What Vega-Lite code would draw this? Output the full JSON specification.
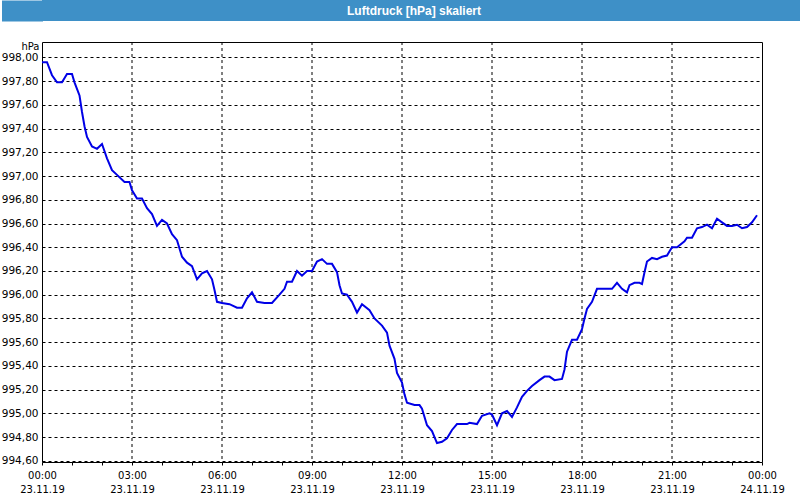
{
  "$schema": "https://vega.github.io/schema/vega-lite/v6.json",
  "padding": 0,
  "background": "white",
  "spacing": 19,
  "config": {"view": {"stroke": null}, "font": "DejaVu Sans"},
  "vconcat": [
    {
      "width": 760,
      "height": 21,
      "view": {"fill": "#3e90c7", "stroke": null},
      "data": {"values": [{"titel": "Luftdruck [hPa] skaliert", "pos": 0}]},
      "mark": {"type": "text", "color": "white", "font": "Liberation Sans", "fontWeight": "bold", "fontSize": 12, "dx": -8, "baseline": "middle"},
      "encoding": {
        "text": {"field": "titel"},
        "y": {
          "field": "pos",
          "type": "quantitative",
          "scale": {"domain": [-1, 1]},
          "axis": {"title": null, "labels": false, "ticks": false, "grid": false, "domain": true, "domainColor": "#3e90c7", "domainOpacity": 1, "domainWidth": 41, "domainCap": "butt", "offset": 20}
        }
      }
    },
    {
      "width": 720,
      "height": 420,
      "view": {"stroke": "black", "strokeWidth": 1, "fill": "white"},
      "resolve": {"axis": {"x": "independent"}},
      "layer": [
        {
          "data": {"values": [
            {"zeit": "2019-11-23T03:00:00Z"}, {"zeit": "2019-11-23T06:00:00Z"}, {"zeit": "2019-11-23T09:00:00Z"},
            {"zeit": "2019-11-23T12:00:00Z"}, {"zeit": "2019-11-23T15:00:00Z"}, {"zeit": "2019-11-23T18:00:00Z"},
            {"zeit": "2019-11-23T21:00:00Z"}
          ]},
          "mark": {"type": "rule", "color": "black", "strokeWidth": 1, "strokeDash": [3, 3]},
          "encoding": {
            "x": {
              "field": "zeit",
              "type": "temporal",
              "axis": {
                "orient": "bottom",
                "title": null,
                "domain": false,
                "labels": false,
                "grid": false,
                "ticks": true,
                "tickSize": 3,
                "tickColor": "black",
                "values": [
                  {"year": 2019, "month": 11, "date": 23, "hours": 1, "utc": true},
                  {"year": 2019, "month": 11, "date": 23, "hours": 2, "utc": true},
                  {"year": 2019, "month": 11, "date": 23, "hours": 4, "utc": true},
                  {"year": 2019, "month": 11, "date": 23, "hours": 5, "utc": true},
                  {"year": 2019, "month": 11, "date": 23, "hours": 7, "utc": true},
                  {"year": 2019, "month": 11, "date": 23, "hours": 8, "utc": true},
                  {"year": 2019, "month": 11, "date": 23, "hours": 10, "utc": true},
                  {"year": 2019, "month": 11, "date": 23, "hours": 11, "utc": true},
                  {"year": 2019, "month": 11, "date": 23, "hours": 13, "utc": true},
                  {"year": 2019, "month": 11, "date": 23, "hours": 14, "utc": true},
                  {"year": 2019, "month": 11, "date": 23, "hours": 16, "utc": true},
                  {"year": 2019, "month": 11, "date": 23, "hours": 17, "utc": true},
                  {"year": 2019, "month": 11, "date": 23, "hours": 19, "utc": true},
                  {"year": 2019, "month": 11, "date": 23, "hours": 20, "utc": true},
                  {"year": 2019, "month": 11, "date": 23, "hours": 22, "utc": true},
                  {"year": 2019, "month": 11, "date": 23, "hours": 23, "utc": true}
                ]
              }
            }
          }
        },
        {
          "data": {"values": [
            {"zeit": "2019-11-23T00:00:00Z", "hPa": 997.96},
            {"zeit": "2019-11-23T00:10:00Z", "hPa": 997.96},
            {"zeit": "2019-11-23T00:20:00Z", "hPa": 997.85},
            {"zeit": "2019-11-23T00:30:00Z", "hPa": 997.79},
            {"zeit": "2019-11-23T00:40:00Z", "hPa": 997.79},
            {"zeit": "2019-11-23T00:50:00Z", "hPa": 997.86},
            {"zeit": "2019-11-23T01:00:00Z", "hPa": 997.86},
            {"zeit": "2019-11-23T01:05:00Z", "hPa": 997.79},
            {"zeit": "2019-11-23T01:15:00Z", "hPa": 997.68},
            {"zeit": "2019-11-23T01:20:00Z", "hPa": 997.54},
            {"zeit": "2019-11-23T01:25:00Z", "hPa": 997.42},
            {"zeit": "2019-11-23T01:30:00Z", "hPa": 997.33},
            {"zeit": "2019-11-23T01:40:00Z", "hPa": 997.25},
            {"zeit": "2019-11-23T01:50:00Z", "hPa": 997.23},
            {"zeit": "2019-11-23T02:00:00Z", "hPa": 997.27},
            {"zeit": "2019-11-23T02:10:00Z", "hPa": 997.15},
            {"zeit": "2019-11-23T02:20:00Z", "hPa": 997.05},
            {"zeit": "2019-11-23T02:30:00Z", "hPa": 997.01},
            {"zeit": "2019-11-23T02:45:00Z", "hPa": 996.95},
            {"zeit": "2019-11-23T02:55:00Z", "hPa": 996.95},
            {"zeit": "2019-11-23T03:00:00Z", "hPa": 996.88},
            {"zeit": "2019-11-23T03:10:00Z", "hPa": 996.81},
            {"zeit": "2019-11-23T03:20:00Z", "hPa": 996.81},
            {"zeit": "2019-11-23T03:30:00Z", "hPa": 996.73},
            {"zeit": "2019-11-23T03:40:00Z", "hPa": 996.68},
            {"zeit": "2019-11-23T03:50:00Z", "hPa": 996.58},
            {"zeit": "2019-11-23T04:00:00Z", "hPa": 996.63},
            {"zeit": "2019-11-23T04:10:00Z", "hPa": 996.60},
            {"zeit": "2019-11-23T04:20:00Z", "hPa": 996.51},
            {"zeit": "2019-11-23T04:30:00Z", "hPa": 996.46},
            {"zeit": "2019-11-23T04:40:00Z", "hPa": 996.32},
            {"zeit": "2019-11-23T04:50:00Z", "hPa": 996.27},
            {"zeit": "2019-11-23T05:00:00Z", "hPa": 996.24},
            {"zeit": "2019-11-23T05:10:00Z", "hPa": 996.13},
            {"zeit": "2019-11-23T05:20:00Z", "hPa": 996.18},
            {"zeit": "2019-11-23T05:30:00Z", "hPa": 996.20},
            {"zeit": "2019-11-23T05:40:00Z", "hPa": 996.13},
            {"zeit": "2019-11-23T05:45:00Z", "hPa": 996.04},
            {"zeit": "2019-11-23T05:50:00Z", "hPa": 995.94},
            {"zeit": "2019-11-23T06:00:00Z", "hPa": 995.93},
            {"zeit": "2019-11-23T06:15:00Z", "hPa": 995.92},
            {"zeit": "2019-11-23T06:30:00Z", "hPa": 995.89},
            {"zeit": "2019-11-23T06:40:00Z", "hPa": 995.89},
            {"zeit": "2019-11-23T06:50:00Z", "hPa": 995.97},
            {"zeit": "2019-11-23T07:00:00Z", "hPa": 996.02},
            {"zeit": "2019-11-23T07:10:00Z", "hPa": 995.94},
            {"zeit": "2019-11-23T07:25:00Z", "hPa": 995.93},
            {"zeit": "2019-11-23T07:40:00Z", "hPa": 995.93},
            {"zeit": "2019-11-23T07:55:00Z", "hPa": 996.00},
            {"zeit": "2019-11-23T08:05:00Z", "hPa": 996.05},
            {"zeit": "2019-11-23T08:10:00Z", "hPa": 996.11},
            {"zeit": "2019-11-23T08:20:00Z", "hPa": 996.11},
            {"zeit": "2019-11-23T08:30:00Z", "hPa": 996.20},
            {"zeit": "2019-11-23T08:40:00Z", "hPa": 996.16},
            {"zeit": "2019-11-23T08:50:00Z", "hPa": 996.20},
            {"zeit": "2019-11-23T09:00:00Z", "hPa": 996.20},
            {"zeit": "2019-11-23T09:10:00Z", "hPa": 996.28},
            {"zeit": "2019-11-23T09:20:00Z", "hPa": 996.30},
            {"zeit": "2019-11-23T09:30:00Z", "hPa": 996.26},
            {"zeit": "2019-11-23T09:40:00Z", "hPa": 996.26},
            {"zeit": "2019-11-23T09:50:00Z", "hPa": 996.19},
            {"zeit": "2019-11-23T09:55:00Z", "hPa": 996.08},
            {"zeit": "2019-11-23T10:00:00Z", "hPa": 996.01},
            {"zeit": "2019-11-23T10:10:00Z", "hPa": 996.00},
            {"zeit": "2019-11-23T10:20:00Z", "hPa": 995.94},
            {"zeit": "2019-11-23T10:30:00Z", "hPa": 995.85},
            {"zeit": "2019-11-23T10:40:00Z", "hPa": 995.92},
            {"zeit": "2019-11-23T10:55:00Z", "hPa": 995.87},
            {"zeit": "2019-11-23T11:05:00Z", "hPa": 995.80},
            {"zeit": "2019-11-23T11:20:00Z", "hPa": 995.74},
            {"zeit": "2019-11-23T11:30:00Z", "hPa": 995.68},
            {"zeit": "2019-11-23T11:35:00Z", "hPa": 995.57},
            {"zeit": "2019-11-23T11:45:00Z", "hPa": 995.46},
            {"zeit": "2019-11-23T11:50:00Z", "hPa": 995.34},
            {"zeit": "2019-11-23T12:00:00Z", "hPa": 995.26},
            {"zeit": "2019-11-23T12:05:00Z", "hPa": 995.16},
            {"zeit": "2019-11-23T12:10:00Z", "hPa": 995.09},
            {"zeit": "2019-11-23T12:25:00Z", "hPa": 995.07},
            {"zeit": "2019-11-23T12:35:00Z", "hPa": 995.07},
            {"zeit": "2019-11-23T12:40:00Z", "hPa": 995.04},
            {"zeit": "2019-11-23T12:50:00Z", "hPa": 994.90},
            {"zeit": "2019-11-23T13:00:00Z", "hPa": 994.85},
            {"zeit": "2019-11-23T13:10:00Z", "hPa": 994.75},
            {"zeit": "2019-11-23T13:20:00Z", "hPa": 994.76},
            {"zeit": "2019-11-23T13:30:00Z", "hPa": 994.79},
            {"zeit": "2019-11-23T13:40:00Z", "hPa": 994.86},
            {"zeit": "2019-11-23T13:50:00Z", "hPa": 994.91},
            {"zeit": "2019-11-23T14:10:00Z", "hPa": 994.91},
            {"zeit": "2019-11-23T14:15:00Z", "hPa": 994.92},
            {"zeit": "2019-11-23T14:30:00Z", "hPa": 994.91},
            {"zeit": "2019-11-23T14:40:00Z", "hPa": 994.98},
            {"zeit": "2019-11-23T14:55:00Z", "hPa": 995.00},
            {"zeit": "2019-11-23T15:00:00Z", "hPa": 994.99},
            {"zeit": "2019-11-23T15:10:00Z", "hPa": 994.90},
            {"zeit": "2019-11-23T15:20:00Z", "hPa": 995.00},
            {"zeit": "2019-11-23T15:30:00Z", "hPa": 995.02},
            {"zeit": "2019-11-23T15:40:00Z", "hPa": 994.97},
            {"zeit": "2019-11-23T15:50:00Z", "hPa": 995.05},
            {"zeit": "2019-11-23T16:00:00Z", "hPa": 995.14},
            {"zeit": "2019-11-23T16:10:00Z", "hPa": 995.19},
            {"zeit": "2019-11-23T16:20:00Z", "hPa": 995.23},
            {"zeit": "2019-11-23T16:35:00Z", "hPa": 995.28},
            {"zeit": "2019-11-23T16:45:00Z", "hPa": 995.31},
            {"zeit": "2019-11-23T16:55:00Z", "hPa": 995.31},
            {"zeit": "2019-11-23T17:05:00Z", "hPa": 995.28},
            {"zeit": "2019-11-23T17:20:00Z", "hPa": 995.29},
            {"zeit": "2019-11-23T17:25:00Z", "hPa": 995.37},
            {"zeit": "2019-11-23T17:30:00Z", "hPa": 995.52},
            {"zeit": "2019-11-23T17:40:00Z", "hPa": 995.62},
            {"zeit": "2019-11-23T17:50:00Z", "hPa": 995.62},
            {"zeit": "2019-11-23T18:00:00Z", "hPa": 995.71},
            {"zeit": "2019-11-23T18:05:00Z", "hPa": 995.80},
            {"zeit": "2019-11-23T18:10:00Z", "hPa": 995.88},
            {"zeit": "2019-11-23T18:20:00Z", "hPa": 995.94},
            {"zeit": "2019-11-23T18:30:00Z", "hPa": 996.05},
            {"zeit": "2019-11-23T18:40:00Z", "hPa": 996.05},
            {"zeit": "2019-11-23T19:00:00Z", "hPa": 996.05},
            {"zeit": "2019-11-23T19:10:00Z", "hPa": 996.10},
            {"zeit": "2019-11-23T19:20:00Z", "hPa": 996.05},
            {"zeit": "2019-11-23T19:30:00Z", "hPa": 996.02},
            {"zeit": "2019-11-23T19:35:00Z", "hPa": 996.08},
            {"zeit": "2019-11-23T19:45:00Z", "hPa": 996.10},
            {"zeit": "2019-11-23T19:55:00Z", "hPa": 996.10},
            {"zeit": "2019-11-23T20:00:00Z", "hPa": 996.09},
            {"zeit": "2019-11-23T20:05:00Z", "hPa": 996.19},
            {"zeit": "2019-11-23T20:10:00Z", "hPa": 996.28},
            {"zeit": "2019-11-23T20:20:00Z", "hPa": 996.31},
            {"zeit": "2019-11-23T20:30:00Z", "hPa": 996.30},
            {"zeit": "2019-11-23T20:40:00Z", "hPa": 996.32},
            {"zeit": "2019-11-23T20:50:00Z", "hPa": 996.33},
            {"zeit": "2019-11-23T21:00:00Z", "hPa": 996.40},
            {"zeit": "2019-11-23T21:10:00Z", "hPa": 996.40},
            {"zeit": "2019-11-23T21:25:00Z", "hPa": 996.45},
            {"zeit": "2019-11-23T21:30:00Z", "hPa": 996.48},
            {"zeit": "2019-11-23T21:40:00Z", "hPa": 996.48},
            {"zeit": "2019-11-23T21:50:00Z", "hPa": 996.56},
            {"zeit": "2019-11-23T22:00:00Z", "hPa": 996.57},
            {"zeit": "2019-11-23T22:10:00Z", "hPa": 996.59},
            {"zeit": "2019-11-23T22:20:00Z", "hPa": 996.56},
            {"zeit": "2019-11-23T22:30:00Z", "hPa": 996.64},
            {"zeit": "2019-11-23T22:40:00Z", "hPa": 996.61},
            {"zeit": "2019-11-23T22:50:00Z", "hPa": 996.58},
            {"zeit": "2019-11-23T23:00:00Z", "hPa": 996.58},
            {"zeit": "2019-11-23T23:10:00Z", "hPa": 996.59},
            {"zeit": "2019-11-23T23:20:00Z", "hPa": 996.56},
            {"zeit": "2019-11-23T23:30:00Z", "hPa": 996.57},
            {"zeit": "2019-11-23T23:40:00Z", "hPa": 996.61},
            {"zeit": "2019-11-23T23:50:00Z", "hPa": 996.67}
          ]},
          "mark": {"type": "line", "color": "#0000e6", "strokeWidth": 2},
          "encoding": {
            "x": {
              "field": "zeit",
              "type": "temporal",
              "scale": {"type": "utc", "domain": ["2019-11-23T00:00:00Z", "2019-11-24T00:00:00Z"], "nice": false},
              "axis": {
                "orient": "bottom",
                "title": null,
                "domain": false,
                "values": [
                  {"year": 2019, "month": 11, "date": 23, "hours": 0, "utc": true},
                  {"year": 2019, "month": 11, "date": 23, "hours": 3, "utc": true},
                  {"year": 2019, "month": 11, "date": 23, "hours": 6, "utc": true},
                  {"year": 2019, "month": 11, "date": 23, "hours": 9, "utc": true},
                  {"year": 2019, "month": 11, "date": 23, "hours": 12, "utc": true},
                  {"year": 2019, "month": 11, "date": 23, "hours": 15, "utc": true},
                  {"year": 2019, "month": 11, "date": 23, "hours": 18, "utc": true},
                  {"year": 2019, "month": 11, "date": 23, "hours": 21, "utc": true},
                  {"year": 2019, "month": 11, "date": 24, "hours": 0, "utc": true}
                ],
                "ticks": true,
                "tickSize": 3,
                "tickColor": "black",
                "labelExpr": "[utcFormat(datum.value, '%H:%M'), utcFormat(datum.value, '%d.%m.%y')]",
                "labelFont": "DejaVu Sans",
                "labelFontSize": 10,
                "labelColor": "black",
                "labelPadding": 5,
                "labelLineHeight": 14,
                "labelBaseline": "top",
                "labelOverlap": false,
                "labelFlush": false,
                "grid": false
              }
            },
            "y": {
              "field": "hPa",
              "type": "quantitative",
              "scale": {"domain": [994.59, 998.13], "nice": false, "zero": false},
              "axis": {
                "title": "hPa",
                "titleAngle": 0,
                "titleAlign": "right",
                "titleBaseline": "middle",
                "titleX": -3,
                "titleY": 4,
                "titleFont": "DejaVu Sans",
                "titleFontSize": 10,
                "titleFontWeight": "normal",
                "titleColor": "black",
                "domain": false,
                "ticks": false,
                "values": [994.6, 994.8, 995.0, 995.2, 995.4, 995.6, 995.8, 996.0, 996.2, 996.4, 996.6, 996.8, 997.0, 997.2, 997.4, 997.6, 997.8, 998.0],
                "labelExpr": "replace(format(datum.value, '.2f'), '.', ',')",
                "labelFont": "DejaVu Sans",
                "labelFontSize": 10.5,
                "labelColor": "black",
                "labelPadding": 4,
                "labelOverlap": false,
                "grid": true,
                "gridColor": "black",
                "gridDash": [3, 3],
                "gridWidth": 1
              }
            }
          }
        }
      ]
    }
  ]
}
